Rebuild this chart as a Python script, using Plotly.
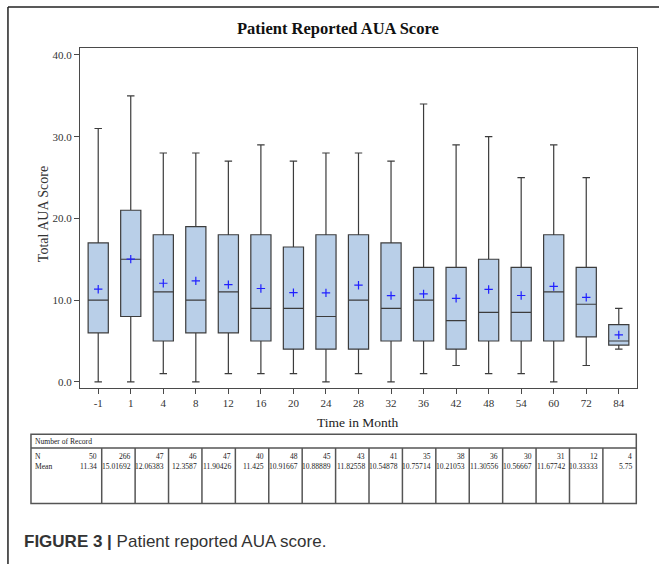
import plotly.graph_objects as go

# Visit months and box-plot statistics of the total AUA score
months = ["-1", "1", "4", "8", "12", "16", "20", "24", "28", "32", "36",
          "42", "48", "54", "60", "72", "84"]
upper_whisker = [31, 35, 28, 28, 27, 29, 27, 28, 28, 27, 34, 29, 30, 25, 29, 25, 9]
q3 = [17, 21, 18, 19, 18, 18, 16.5, 18, 18, 17, 14, 14, 15, 14, 18, 14, 7]
median = [10, 15, 11, 10, 11, 9, 9, 8, 10, 9, 10, 7.5, 8.5, 8.5, 11, 9.5, 5]
q1 = [6, 8, 5, 6, 6, 5, 4, 4, 4, 5, 5, 4, 5, 5, 5, 5.5, 4.5]
lower_whisker = [0, 0, 1, 0, 1, 1, 1, 0, 1, 0, 1, 2, 1, 1, 0, 2, 4]
n_records = [50, 266, 47, 46, 47, 40, 48, 45, 43, 41, 35, 38, 36, 30, 31, 12, 4]
mean_score = [11.34, 15.01692, 12.06383, 12.3587, 11.90426, 11.425, 10.91667,
              10.88889, 11.82558, 10.54878, 10.75714, 10.21053, 11.30556,
              10.56667, 11.67742, 10.33333, 5.75]
y_ticks = [0, 10, 20, 30, 40]

W, H = 659, 564
# plot-area edges in page pixels
L, R, T, B = 80, 636.7, 48, 387.7


def px(x):
    return (x - L) / (R - L)


def py(y):
    return (B - y) / (B - T)


SERIF = "Liberation Serif"
SANS = "Liberation Sans"
EDGE = "#4a4a4a"

fig = go.Figure()

fig.add_trace(go.Box(
    x=months, q1=q1, median=median, q3=q3,
    lowerfence=lower_whisker, upperfence=upper_whisker,
    fillcolor="#b9cfe8", line=dict(color="#3c3c3c", width=1.2),
    width=0.62, whiskerwidth=0.37, boxpoints=False, showlegend=False,
))

fig.add_trace(go.Scatter(
    x=months, y=mean_score, mode="markers", showlegend=False,
    marker=dict(symbol="cross-thin", size=6, color="#2020ff",
                line=dict(color="#2020ff", width=1.2)),
))

fig.update_xaxes(
    type="category", range=[-0.56, 16.56],
    showline=True, mirror=True, linecolor=EDGE, linewidth=1.3,
    ticks="outside", ticklen=5, tickcolor=EDGE, showgrid=False, zeroline=False,
    tickfont=dict(family=SERIF, size=11, color="#333"),
)
fig.update_yaxes(
    range=[-0.75, 40.85], tickvals=y_ticks, tickformat=".1f",
    showline=True, mirror=True, linecolor=EDGE, linewidth=1.3,
    ticks="outside", ticklen=5, tickcolor=EDGE, showgrid=False, zeroline=False,
    tickfont=dict(family=SERIF, size=11, color="#333"),
)

ann = []
shapes = []

# title and axis titles
ann.append(dict(text="<b>Patient Reported AUA Score</b>", x=px(338), y=py(29),
                xref="paper", yref="paper", xanchor="center", yanchor="middle",
                showarrow=False, font=dict(family=SERIF, size=16.5, color="#111")))
ann.append(dict(text="Time in Month", x=px(358), y=py(422),
                xref="paper", yref="paper", xanchor="center", yanchor="middle",
                showarrow=False, font=dict(family=SERIF, size=13.5, color="#222")))
ann.append(dict(text="Total AUA Score", x=px(43), y=py(214), textangle=-90,
                xref="paper", yref="paper", xanchor="center", yanchor="middle",
                showarrow=False, font=dict(family=SERIF, size=14, color="#333")))

# outer frame (left and top edges)
shapes.append(dict(type="line", xref="paper", yref="paper",
                   x0=px(8), x1=px(8), y0=py(7), y1=py(H + 2),
                   line=dict(color="#222", width=1.5)))
shapes.append(dict(type="line", xref="paper", yref="paper",
                   x0=px(8), x1=px(W + 2), y0=py(7), y1=py(7),
                   line=dict(color="#222", width=1.5)))

# record table under the chart
tl, tr, tt, th, tb = 31, 636, 434, 447.7, 503
first_col, col_w = 101.7, (636 - 101.7) / 16
tline = dict(color="#555", width=1.5)
shapes.append(dict(type="rect", xref="paper", yref="paper",
                   x0=px(tl), x1=px(tr), y0=py(tt), y1=py(tb), line=tline))
shapes.append(dict(type="line", xref="paper", yref="paper",
                   x0=px(tl), x1=px(tr), y0=py(th), y1=py(th), line=tline))
for k in range(16):
    xk = first_col + k * col_w
    shapes.append(dict(type="line", xref="paper", yref="paper",
                       x0=px(xk), x1=px(xk), y0=py(th), y1=py(tb), line=tline))

tfont = dict(family=SERIF, size=7.6, color="#222")
for label, yy in [("Number of Record", 441), ("N", 456), ("Mean", 466)]:
    ann.append(dict(text=label, x=px(33), y=py(yy), xref="paper", yref="paper",
                    xanchor="left", yanchor="middle", showarrow=False, font=tfont))
for k, (n, m) in enumerate(zip(n_records, mean_score)):
    xr = first_col + k * col_w - 2.5
    ann.append(dict(text=str(n), x=px(xr), y=py(456), xref="paper", yref="paper",
                    xanchor="right", yanchor="middle", showarrow=False, font=tfont))
    ann.append(dict(text=str(m), x=px(xr), y=py(466), xref="paper", yref="paper",
                    xanchor="right", yanchor="middle", showarrow=False, font=tfont))

# figure caption
ann.append(dict(text="<b>FIGURE 3 |</b> Patient reported AUA score.",
                x=px(22), y=py(541), xref="paper", yref="paper",
                xanchor="left", yanchor="middle", showarrow=False,
                font=dict(family=SANS, size=17, color="#333")))

fig.update_layout(
    width=W, height=H, autosize=False,
    margin=dict(l=L, r=W - R, t=T, b=H - B, pad=0),
    paper_bgcolor="white", plot_bgcolor="white",
    annotations=ann, shapes=shapes,
)

fig.write_html("out.html")
